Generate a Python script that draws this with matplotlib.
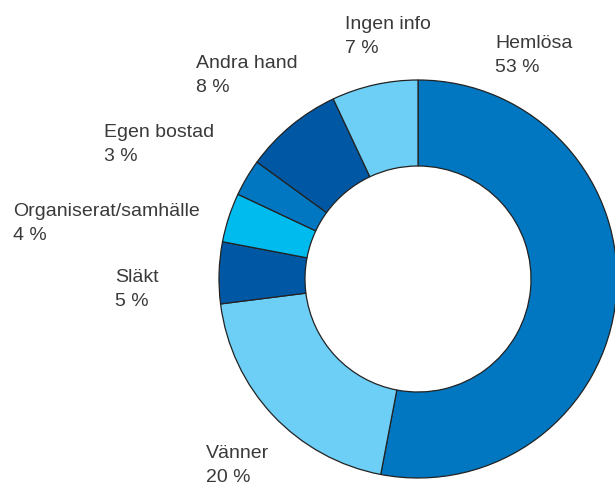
import matplotlib.pyplot as plt

names = ['Hemlösa', 'Vänner', 'Släkt', 'Organiserat/samhälle', 'Egen bostad', 'Andra hand', 'Ingen info']
shares = [53, 20, 5, 4, 3, 8, 7]
colors = ['#0077c0', '#6dcff6', '#0058a4', '#00bbee', '#0077c0', '#0058a4', '#6dcff6']
# top-left of each label in pixels
label_pos = [(495, 35), (206, 445), (115, 269), (13, 203), (104, 124), (196, 55), (345, 16)]

W, H = 615, 484
fig = plt.figure(figsize=(W / 100, H / 100), dpi=100)
ax = fig.add_axes([0, 0, 1, 1])

ax.pie(shares, colors=colors, startangle=90, counterclock=False,
       center=(418, H - 279), radius=199,
       wedgeprops=dict(width=86, edgecolor='#222222', linewidth=0.9))
ax.set_xlim(0, W)
ax.set_ylim(0, H)
ax.set_aspect('equal')
ax.axis('off')

for name, share, (x, y) in zip(names, shares, label_pos):
    ax.text(x, H - y, f"{name}\n{share} %", ha='left', va='top',
            fontsize=14, family='Liberation Sans', color='#3a3a3a', linespacing=1.55)

fig.savefig('out.png', dpi=100)
